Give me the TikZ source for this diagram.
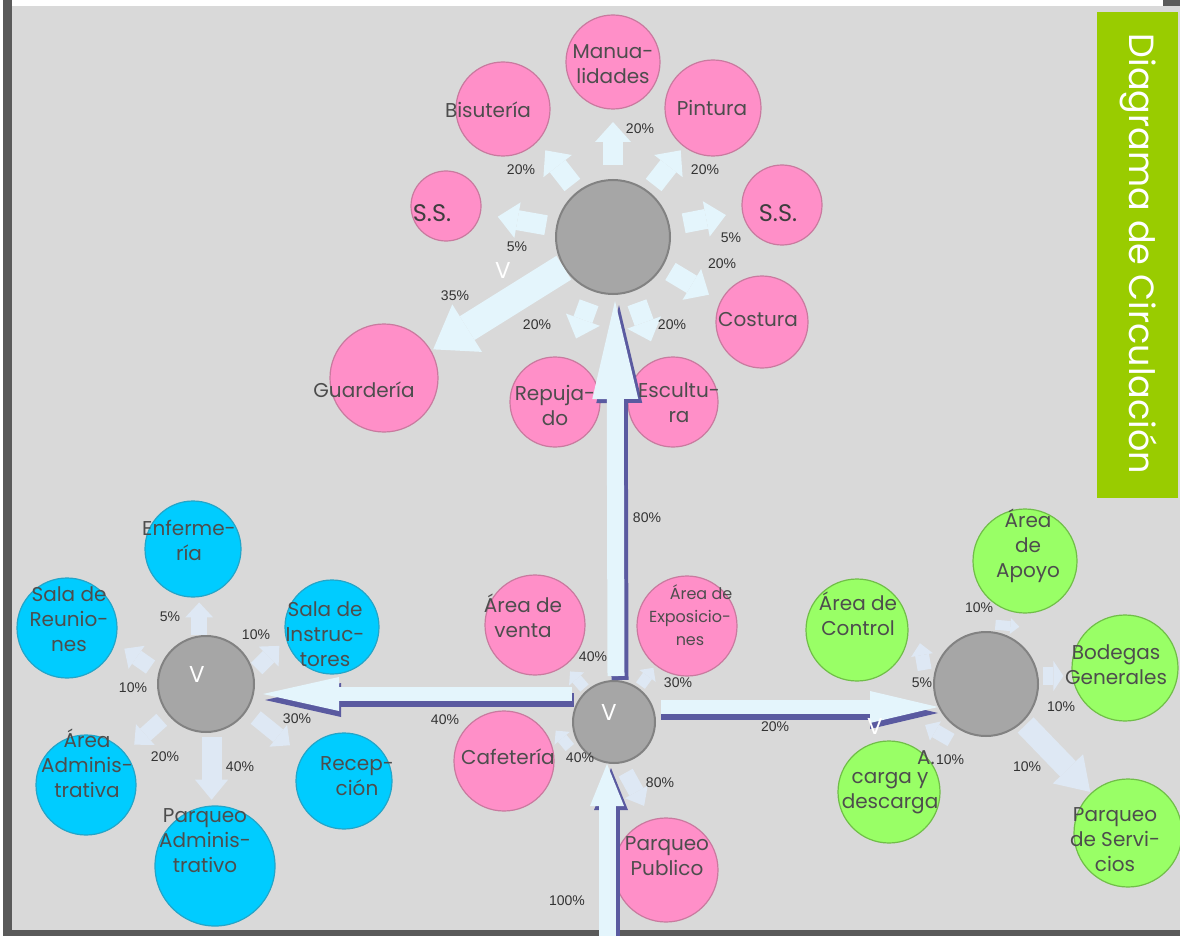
\documentclass[tikz,border=0pt]{standalone}
\usepackage{fontspec}
\setmainfont{Poppins}
\newfontfamily\pctfont{Liberation Sans}
\usetikzlibrary{arrows.meta,calc}
\definecolor{bgc}{HTML}{D9D9D9}
\definecolor{pinkc}{HTML}{FF8FC8}
\definecolor{pinkd}{HTML}{C97A9F}
\definecolor{bluec}{HTML}{00CCFF}
\definecolor{blued}{HTML}{23A5C8}
\definecolor{greenc}{HTML}{99FF66}
\definecolor{greend}{HTML}{70BE48}
\definecolor{hubc}{HTML}{A6A6A6}
\definecolor{hubd}{HTML}{828282}
\definecolor{txtc}{HTML}{4D4D4D}
\definecolor{pctc}{HTML}{333333}
\definecolor{arrc}{HTML}{E4F5FC}
\definecolor{arrs}{HTML}{DEE8F4}
\definecolor{shadc}{HTML}{5A5AA0}
\definecolor{titc}{HTML}{99CC00}
\definecolor{framec}{HTML}{5A5A5A}
\newcommand\flow[5]{\draw[#5] ($(#1.center)+(#2:#3)$) -- ($(#1.center)+(#2:#4)$);}
\newcommand\flowd[6]{\draw[#6] ($(#1.center)+(#2:#3)$) -- ($(#1.center)+(#2:#3)+(#4:#5)$);}
\begin{document}
\begin{tikzpicture}[x=1pt,y=-1pt,
  circ/.style={circle, inner sep=0pt, line width=1.2pt},
  pk/.style={circ, fill=pinkc, draw=pinkd, minimum size=#1},
  bl/.style={circ, fill=bluec, draw=blued, minimum size=#1},
  gr/.style={circ, fill=greenc, draw=greend, minimum size=#1},
  hb/.style={circ, fill=hubc, draw=hubd, line width=2pt, minimum size=#1},
  lbl/.style={font=\fontsize{20}{25}\selectfont, text=txtc, align=center, inner sep=0pt},
  lbls/.style={font=\fontsize{16}{23}\selectfont, text=txtc, align=center, inner sep=0pt},
  ss/.style={font=\fontsize{24}{26}\selectfont, text=txtc!80!black, inner sep=0pt},
  pct/.style={font=\pctfont\fontsize{14}{16}\selectfont, text=pctc, inner sep=0pt},
  vl/.style={font=\fontsize{23}{24}\selectfont, text=white, inner sep=0pt},
  fa/.style n args={4}{draw=#1, line width=#2, -{Triangle[width=#3,length=#4,line width=0pt]}},
  ta/.style={fa={arrc}{20pt}{36pt}{20pt}},
  sc/.style={fa={arrs}{11pt}{20pt}{10pt}},
  sl/.style={fa={arrs}{16pt}{28pt}{15pt}},
]
\useasboundingbox (0,0) rectangle (1180,936);
% frame
\fill[white] (0,0) rectangle (1180,936);
\fill[bgc] (12,6) rectangle (1180,930);
\fill[framec] (3,0) rectangle (12,936);
\fill[framec] (3,930) rectangle (1180,936);
\fill[framec] (1163,0) rectangle (1180,6);
% title
\fill[titc] (1097,12) rectangle (1178,498);
\node[rotate=-90, text=white, font=\fontsize{35}{38}\selectfont, inner sep=0pt] (title) at (1139,254) {Diagrama de Circulación};

% top cluster
\node[hb=114pt] (hubT) at (613,237) {};
\node[pk=94pt] (manu) at (613,62) {};
\node[pk=94pt] (bisu) at (503,109) {};
\node[pk=96pt] (pint) at (713,108) {};
\node[pk=70pt] (ssl) at (446,206) {};
\node[pk=80pt] (ssr) at (782,205) {};
\node[pk=92pt] (cost) at (762,322) {};
\node[pk=90pt] (escu) at (673,402) {};
\node[pk=90pt] (repu) at (555,402) {};
\node[pk=108pt] (guar) at (384,378) {};
% center cluster
\node[hb=82pt] (hubC) at (614,722) {};
\node[pk=100pt] (venta) at (535,625) {};
\node[pk=100pt] (expo) at (687,626) {};
\node[pk=100pt] (cafe) at (504,761) {};
\node[pk=104pt] (ppub) at (666,870) {};
% left cluster
\node[hb=96pt] (hubL) at (206,684) {};
\node[bl=96pt] (enf) at (193,549) {};
\node[bl=100pt] (reun) at (67,628) {};
\node[bl=94pt] (inst) at (332,627) {};
\node[bl=100pt] (adm) at (86,785) {};
\node[bl=96pt] (rec) at (344,781) {};
\node[bl=120pt] (padm) at (215,866) {};
% right cluster
\node[hb=104pt] (hubR) at (986,684) {};
\node[gr=104pt] (apoyo) at (1025,561) {};
\node[gr=102pt] (ctrl) at (857,630) {};
\node[gr=106pt] (bod) at (1125,668) {};
\node[gr=102pt] (carga) at (889,792) {};
\node[gr=108pt] (pserv) at (1128,833) {};

% main arrows with shadow
\coordinate (botc) at (607,945);
\draw[fa={shadc}{17pt}{46pt}{98pt}] ([shift={(6,0)}]hubC.north) -- ([shift={(6,10)}]hubT.south);
\draw[fa={arrc}{17pt}{46pt}{98pt}] ([shift={(2,-4)}]hubC.north) -- ([shift={(2,6)}]hubT.south);
\draw[fa={shadc}{17pt}{34pt}{42pt}] ([shift={(4,4)}]botc) -- ([shift={(-3,4)}]hubC.south);
\draw[fa={arrc}{17pt}{34pt}{42pt}] (botc) -- ([shift={(-7,0)}]hubC.south);
\draw[fa={shadc}{14pt}{34pt}{76pt}] ([shift={(2,-22)}]hubC.west) -- ([shift={(10,16)}]hubL.east);
\draw[fa={arrc}{14pt}{34pt}{76pt}] ([shift={(0,-28)}]hubC.west) -- ([shift={(8,10)}]hubL.east);
\draw[fa={shadc}{14pt}{32pt}{68pt}] ([shift={(5,-9)}]hubC.east) -- ([shift={(5,29)}]hubR.west);
\draw[fa={arrc}{14pt}{32pt}{68pt}] ([shift={(5,-15)}]hubC.east) -- ([shift={(5,23)}]hubR.west);

% top flows
\flow{hubT}{-90}{72}{115}{ta}
\flow{hubT}{-128}{66}{110}{ta}
\flow{hubT}{-52}{66}{110}{ta}
\flow{hubT}{-170}{68}{117}{ta}
\flow{hubT}{-11}{72}{115}{ta}
\flow{hubT}{31}{67}{112}{ta}
\flow{hubT}{110}{70}{108}{ta}
\flow{hubT}{70}{70}{111}{ta}
\flow{hubT}{148}{58}{212}{fa={arrc}{28pt}{56pt}{40pt}}
% center flows
\flowd{hubC}{-131}{45}{-131}{22}{sc}
\flowd{hubC}{-54}{45}{-54}{22}{sc}
\flowd{hubC}{150}{51}{-130}{22}{sc}
\flowd{hubC}{77}{52}{61}{38}{fa={arrs}{16pt}{26pt}{16pt}}
% left flows
\flowd{hubL}{-98}{49}{-90}{33}{sl}
\flowd{hubL}{-163}{58}{-145}{32}{sl}
\flowd{hubL}{-17}{53}{-45}{32}{sl}
\flowd{hubL}{141}{57}{138}{37}{sl}
\flowd{hubL}{84}{53}{90}{63}{fa={arrs}{20pt}{33pt}{20pt}}
\flowd{hubL}{34}{60}{39}{44}{sl}
% right flows
\flowd{hubR}{-81}{60}{5}{24}{fa={arrs}{10pt}{16pt}{9pt}}
\flowd{hubR}{-167}{63}{-100}{27}{fa={arrs}{14pt}{22pt}{12pt}}
\flowd{hubR}{-8}{58}{0}{20}{fa={arrs}{18pt}{30pt}{10pt}}
\flowd{hubR}{122}{66}{-150}{30}{fa={arrs}{14pt}{22pt}{12pt}}
\flow{hubR}{46}{57}{150}{fa={arrs}{22pt}{42pt}{32pt}}

% circle texts
\node[lbl] (tmanu) at (613,64) {Manua-\\lidades};
\node[lbl] (tbisu) at (488,110) {Bisutería};
\node[lbl] (tpint) at (712,108) {Pintura};
\node[ss] (tssl) at (432,213) {S.S.};
\node[ss] (tssr) at (778,213) {S.S.};
\node[lbl] (tcost) at (758,320) {Costura};
\node[lbl] (tescu) at (679,403) {Escultu-\\ra};
\node[lbl] (trepu) at (555,405) {Repuja-\\do};
\node[lbl] (tguar) at (364,390) {Guardería};
\node[lbl] (tventa) at (523,616) {Área de\\venta};
\node[lbls] (texpo) at (690,615) {\hspace*{22pt}Área de\\Exposicio-\\nes};
\node[lbl] (tcafe) at (508,757) {Cafetería};
\node[lbl] (tppub) at (667,856) {Parqueo\\Publico};
\node[lbl] (tenf) at (189,540) {Enferme-\\ría};
\node[lbl] (treun) at (69,619) {Sala de\\Reunio-\\nes};
\node[lbl] (tinst) at (325,634) {Sala de\\Instruc-\\tores};
\node[lbl] (tadm) at (87,763) {Área\\Adminis-\\trativa};
\node[lbl] (trec) at (357,776) {Recep-\\ción};
\node[lbl] (tpadm) at (205,841) {Parqueo\\Adminis-\\trativo};
\node[lbl] (tapoyo) at (1028,546) {Área\\de\\Apoyo};
\node[lbl] (tctrl) at (858,614) {Área de\\Control};
\node[lbl] (tbod) at (1116,665) {Bodegas\\Generales};
\node[lbl] (tA) at (926,758) {A.};
\node[lbl] (tcarga) at (890,793) {carga y\\descarga};
\node[lbl] (tpserv) at (1115,840) {Parqueo\\de Servi-\\cios};

% V marks
\node[vl] (v1) at (609,712) {V};
\node[vl] (v2) at (197,674) {V};
\node[vl] (v3) at (503,270) {V};
\node[vl] (v4) at (875,726) {V};

% percentages
\node[pct] (p1) at (640,129) {20\%};
\node[pct] (p2) at (521,170) {20\%};
\node[pct] (p3) at (705,170) {20\%};
\node[pct] (p4) at (517,247) {5\%};
\node[pct] (p5) at (731,238) {5\%};
\node[pct] (p6) at (722,264) {20\%};
\node[pct] (p7) at (455,296) {35\%};
\node[pct] (p8) at (537,325) {20\%};
\node[pct] (p9) at (672,325) {20\%};
\node[pct] (p10) at (647,518) {80\%};
\node[pct] (p11) at (445,720) {40\%};
\node[pct] (p12) at (775,727) {20\%};
\node[pct] (p13) at (567,901) {100\%};
\node[pct] (p14) at (593,657) {40\%};
\node[pct] (p15) at (678,683) {30\%};
\node[pct] (p16) at (580,758) {40\%};
\node[pct] (p17) at (660,783) {80\%};
\node[pct] (p18) at (170,617) {5\%};
\node[pct] (p19) at (256,635) {10\%};
\node[pct] (p20) at (133,688) {10\%};
\node[pct] (p21) at (165,757) {20\%};
\node[pct] (p22) at (240,767) {40\%};
\node[pct] (p23) at (297,719) {30\%};
\node[pct] (p24) at (979,608) {10\%};
\node[pct] (p25) at (922,683) {5\%};
\node[pct] (p26) at (1061,707) {10\%};
\node[pct] (p27) at (950,760) {10\%};
\node[pct] (p28) at (1027,767) {10\%};
\end{tikzpicture}
\end{document}
